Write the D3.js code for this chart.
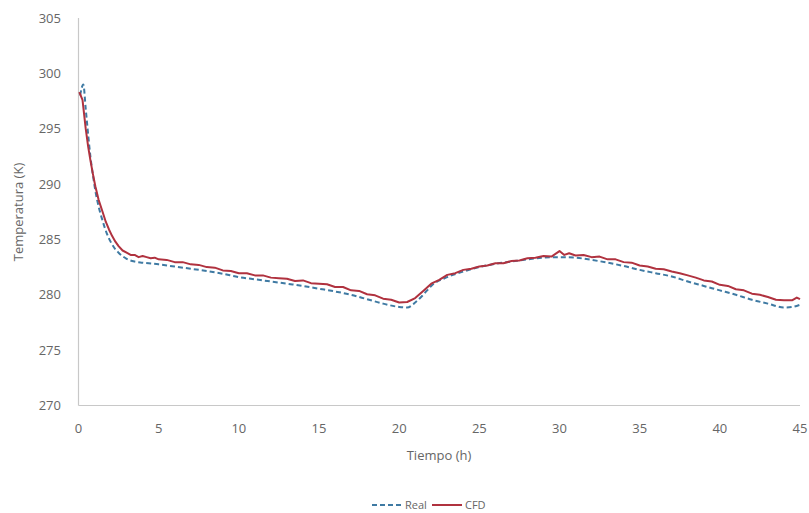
<!DOCTYPE html>
<html>
<head>
<meta charset="utf-8">
<script src="https://cdn.jsdelivr.net/npm/d3@7"></script>
<style>
  body { margin: 0; background: #fff; }
  .tick-label { font-family: "Open Sans", sans-serif; font-size: 13px; fill: #666; }
  .label { font-family: "Open Sans", sans-serif; font-size: 13px; fill: #666; }
  .legend { font-family: "Open Sans", sans-serif; font-size: 11px; fill: #666; }
</style>
</head>
<body>
<svg id="chart" width="809" height="513"></svg>
<script>
// tick labels
const xTicks = [0, 5, 10, 15, 20, 25, 30, 35, 40, 45];
const yTicks = [270, 275, 280, 285, 290, 295, 300, 305];

// Real (measured) series: time in h, temperature in K
const realTime = [0.1, 0.3, 0.45, 0.6, 0.75, 0.9, 1.05, 1.25, 1.5, 1.75, 2.0, 2.25, 2.5, 3.0, 3.5, 4.0,
    5, 6, 7, 8, 9, 10, 11, 12, 13, 14, 15, 16, 17, 18, 19, 20, 20.5, 21, 21.5, 22, 23, 24, 25,
    26, 27, 28, 29, 30, 31, 32, 33, 34, 35, 36, 37, 38, 39, 40, 41, 42, 43, 44, 44.5, 45];
const realTemp = [298.0, 299.0, 296.8, 294.5, 292.4, 290.8, 289.4, 288.0, 286.7, 285.6, 284.8, 284.2, 283.8, 283.25, 283.0, 282.9,
    282.75, 282.55, 282.35, 282.15, 281.9, 281.6, 281.4, 281.2, 281.0, 280.8, 280.55, 280.3, 280.0, 279.6, 279.2, 278.9, 278.85, 279.3, 280.0, 280.8, 281.6, 282.1, 282.5,
    282.8, 283.0, 283.2, 283.35, 283.4, 283.35, 283.15, 282.9, 282.6, 282.25, 281.95, 281.65, 281.2, 280.8, 280.4, 280.0, 279.55, 279.2, 278.85, 278.9, 279.1];

// CFD series
const cfdTime = [0.05, 0.25, 0.45, 0.6, 0.75, 0.9, 1.05, 1.25, 1.5, 1.7, 1.9, 2.1, 2.3, 2.5, 2.75, 3.0, 3.25, 3.5, 3.75, 4.0, 4.25, 4.5, 4.75,
    5.0, 5.5, 6.0, 6.5, 7.0, 7.5, 8.0, 8.5, 9.0, 9.5, 10.0, 10.5, 11.0, 11.5, 12.0, 12.5, 13.0, 13.5, 14.0, 14.5,
    15.0, 15.5, 16.0, 16.5, 17.0, 17.5, 18.0, 18.5, 19.0, 19.5, 20.0, 20.5, 21.0, 21.5, 22.0, 22.5, 23.0, 23.5, 24.0, 24.5,
    25.0, 25.5, 26.0, 26.5, 27.0, 27.5, 28.0, 28.5, 29.0, 29.5, 30.0, 30.3, 30.6, 31.0, 31.5, 32.0, 32.5, 33.0, 33.5, 34.0, 34.5,
    35.0, 35.5, 36.0, 36.5, 37.0, 37.5, 38.0, 38.5, 39.0, 39.5, 40.0, 40.5, 41.0, 41.5, 42.0, 42.5, 43.0, 43.5, 44.0, 44.5, 44.8, 45.0];
const cfdTemp = [298.3, 297.6, 295.0, 293.4, 292.1, 290.9, 289.8, 288.6, 287.5, 286.6, 285.9, 285.3, 284.8, 284.4, 284.0, 283.8, 283.6, 283.6, 283.4, 283.5, 283.4, 283.3, 283.35,
    283.2, 283.15, 282.95, 282.95, 282.75, 282.7, 282.5, 282.45, 282.2, 282.15, 281.95, 281.95, 281.75, 281.75, 281.55, 281.5, 281.45, 281.25, 281.3, 281.05,
    281.0, 280.95, 280.7, 280.7, 280.4, 280.35, 280.05, 279.95, 279.65, 279.55, 279.3, 279.35, 279.7, 280.35, 281.0, 281.35, 281.8, 281.95, 282.25, 282.35,
    282.55, 282.65, 282.85, 282.85, 283.05, 283.1, 283.3, 283.35, 283.5, 283.45, 283.95, 283.6, 283.75, 283.55, 283.6, 283.4, 283.45, 283.2, 283.2, 282.95, 282.9,
    282.65, 282.55, 282.35, 282.3, 282.1, 281.95, 281.75, 281.55, 281.3, 281.2, 280.9, 280.8, 280.5, 280.4, 280.1, 280.0, 279.8, 279.55, 279.5, 279.5, 279.75, 279.6];

const realColor = "#3f7aa3";
const cfdColor = "#b0323f";

function line_chart(ax) {
    const Fig = d3.select(ax);

    const xScale = d3.scaleLinear().domain([0, 45]).range([78.5, 800]);
    const yScale = d3.scaleLinear().domain([270, 305]).range([405.5, 18]);

    // axis lines (no tick marks)
    Fig.append("line")
        .attr("x1", xScale(0)).attr("x2", xScale(0))
        .attr("y1", yScale(305)).attr("y2", yScale(270))
        .attr("stroke", "#c8c8c8").attr("stroke-width", 1.2);
    Fig.append("line")
        .attr("x1", xScale(0)).attr("x2", xScale(45))
        .attr("y1", yScale(270)).attr("y2", yScale(270))
        .attr("stroke", "#c8c8c8").attr("stroke-width", 1.2);

    Fig.selectAll(".ytick")
        .data(yTicks)
        .join("text")
        .attr("class", "tick-label")
        .attr("x", 61)
        .attr("y", d => yScale(d))
        .attr("dy", "0.35em")
        .attr("text-anchor", "end")
        .text(d => d);

    Fig.selectAll(".xtick")
        .data(xTicks)
        .join("text")
        .attr("class", "tick-label")
        .attr("x", d => xScale(d))
        .attr("y", 428)
        .attr("dy", "0.35em")
        .attr("text-anchor", "middle")
        .text(d => d);

    Fig.append("text")
        .attr("class", "label")
        .attr("x", 439)
        .attr("y", 455)
        .attr("dy", "0.35em")
        .attr("text-anchor", "middle")
        .text("Tiempo (h)");

    Fig.append("text")
        .attr("class", "label")
        .attr("transform", "translate(18, 212) rotate(-90)")
        .attr("dy", "0.35em")
        .attr("text-anchor", "middle")
        .text("Temperatura (K)");

    const realData = realTime.map((t, i) => [t, realTemp[i]]);
    const cfdData = cfdTime.map((t, i) => [t, cfdTemp[i]]);

    const realLine = d3.line()
        .x(d => xScale(d[0]))
        .y(d => yScale(d[1]))
        .curve(d3.curveMonotoneX);
    const cfdLine = d3.line()
        .x(d => xScale(d[0]))
        .y(d => yScale(d[1]));

    Fig.append("path")
        .datum(realData)
        .attr("d", realLine)
        .attr("fill", "none")
        .attr("stroke", realColor)
        .attr("stroke-width", 2)
        .attr("stroke-dasharray", "5,3");

    Fig.append("path")
        .datum(cfdData)
        .attr("d", cfdLine)
        .attr("fill", "none")
        .attr("stroke", cfdColor)
        .attr("stroke-width", 2)
        .attr("stroke-linejoin", "round");

    // legend
    const legend = [
        { name: "Real", color: realColor, dash: "5,3", x: 372 },
        { name: "CFD", color: cfdColor, dash: null, x: 432 }
    ];
    const items = Fig.append("g").selectAll("g")
        .data(legend)
        .join("g")
        .attr("transform", d => `translate(${d.x}, 505)`);
    items.append("line")
        .attr("x1", 0).attr("x2", 30)
        .attr("stroke", d => d.color)
        .attr("stroke-width", 2)
        .attr("stroke-dasharray", d => d.dash);
    items.append("text")
        .attr("class", "legend")
        .attr("x", 33)
        .attr("dy", "0.35em")
        .text(d => d.name);
}

line_chart("#chart");
</script>
</body>
</html>
